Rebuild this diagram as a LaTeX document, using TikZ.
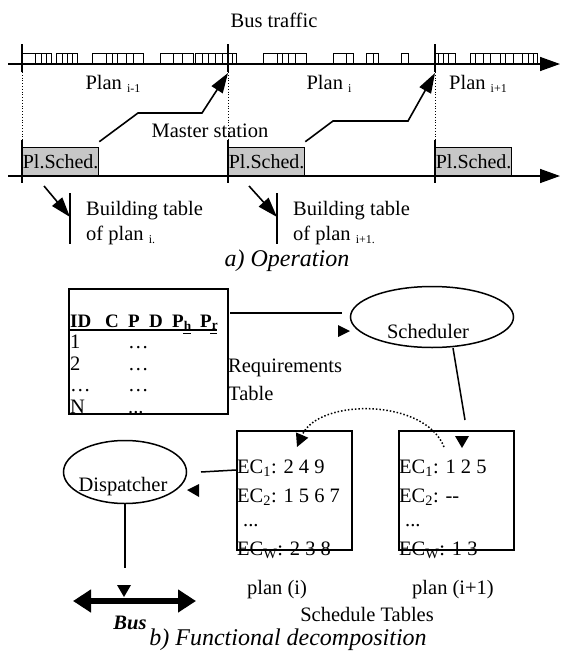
\documentclass[tikz,border=0pt]{standalone}
\usepackage{fontspec}
\setmainfont{Liberation Serif}
\usetikzlibrary{arrows.meta,shapes.geometric}
\newcommand\lowsub[1]{\raisebox{-0.35ex}{\fontsize{12}{12}\selectfont #1}}
\newcommand\pkts[3]{\draw[pkt] (#1,53) -- (#2,53); \foreach \xx in {#1,#3,#2} \draw[pkt] (\xx,53) -- (\xx,64);}
\begin{document}
\begin{tikzpicture}[x=1pt,y=-1pt,font=\fontsize{20.5}{24}\selectfont,
  every node/.style={inner sep=0pt},
  pkt/.style={line width=0.8pt},
  axisline/.style={line width=1.5pt,-{Triangle[length=20pt,width=14pt]}},
  tickline/.style={line width=1.3pt},
  dotv/.style={dotted,line width=0.8pt},
  sched/.style={draw,line width=1.3pt,fill=black!22,minimum width=76pt,minimum height=28pt,anchor=south west,font=\fontsize{20}{24}\selectfont},
  harrow/.style={line width=1.6pt,-{Triangle[length=20pt,width=13pt]}},
  boxrect/.style={draw,line width=1.8pt,anchor=north west},
  conn/.style={line width=1.5pt},
  oval/.style={draw,ellipse,line width=1.5pt},
  captxt/.style={anchor=base,font=\fontsize{24}{28}\selectfont\itshape}]
\useasboundingbox (0,0) rectangle (562,653);
% ---------- a) Operation ----------
\node (bt) at (274,20) {Bus traffic};
\coordinate (ax1s) at (8,64); \coordinate (ax1e) at (560,64);
\draw[axisline] (ax1s) -- (ax1e);
\foreach \t in {22,228,435} {
  \draw[tickline] (\t,44) -- (\t,72);
  \draw[dotv] (\t,72) -- (\t,140);
  \draw[tickline] (\t,140) -- (\t,183);
}
\pkts{22}{51}{35,41,46}
\pkts{56}{77}{62,67,72}
\pkts{92}{126}{106,112,117}
\pkts{126}{143}{133}
\pkts{160}{193}{173,182}
\pkts{195}{228}{202,208,215,222}
\pkts{228}{236}{232}
\pkts{263}{288}{277,282}
\pkts{288}{306}{295}
\pkts{333}{353}{346}
\pkts{366}{378}{373}
\pkts{401}{408}{401}
\pkts{435}{455}{438,443,448}
\pkts{470}{537}{475,483,490,500,505,513,522,528,533}
\node (pl1) at (113,84) {Plan \lowsub{i-1}};
\node (pl2) at (329,84) {Plan \lowsub{i}};
\node (pl3) at (478,84) {Plan \lowsub{i+1}};
\coordinate (ax2s) at (8,176); \coordinate (ax2e) at (560,176);
\draw[axisline] (ax2s) -- (ax2e);
\node[sched] (s1) at (22,176) {Pl.Sched.};
\node[sched] (s2) at (228,176) {Pl.Sched.};
\node[sched] (s3) at (435,176) {Pl.Sched.};
\coordinate (tip2) at (228,73);
\coordinate (tip3) at (435,73);
\draw[harrow] ([yshift=5pt]s1.north east) -- (138,113) -- (202,113) -- (tip2);
\draw[harrow] ([yshift=5pt]s2.north east) -- (333,121) -- (408,121) -- (tip3);
\node (ms) at (210,131) {Master station};
\coordinate (d1a) at (44,186); \coordinate (d1b) at (70,217);
\coordinate (d2a) at (249,186); \coordinate (d2b) at (277,217);
\draw[harrow] (d1a) -- (d1b);
\draw[harrow] (d2a) -- (d2b);
\draw[conn] (70,193) -- (70,244);
\draw[conn] (277,193) -- (277,244);
\node[anchor=west] (b1a) at (86,211) {Building table};
\node[anchor=west] (b1b) at (86,235) {of plan \lowsub{i.}};
\node[anchor=west] (b2a) at (293,211) {Building table};
\node[anchor=west] (b2b) at (293,235) {of plan \lowsub{i+1.}};
\node[captxt] (capa) at (287,266) {a) Operation};
% ---------- b) Functional decomposition ----------
\node[boxrect,minimum width=159pt,minimum height=125pt] (req) at (68,288) {};
\begin{scope}[every node/.style={anchor=base west,inner sep=0pt,font=\fontsize{19}{22}\selectfont\bfseries}]
\node (hID) at (70,327) {ID};
\node (hC) at (105,327) {C};
\node (hP) at (128,327) {P};
\node (hD) at (149,327) {D};
\node (hPh) at (172,327) {P\textsubscript{h}};
\node (hPr) at (200,327) {P\textsubscript{r}};
\end{scope}
\draw[line width=1.5pt] (68,330) -- (217,330);
\draw[line width=1pt] (183,333) -- (191,333);
\draw[line width=1pt] (210,333) -- (217,333);
\begin{scope}[every node/.style={anchor=base west,inner sep=0pt}]
\node (r1a) at (70,348) {1};
\node (r2a) at (70,370) {2};
\node (r3a) at (70,391) {…};
\node (r4a) at (70,413) {N};
\node (r1b) at (128,348) {…};
\node (r2b) at (128,370) {…};
\node (r3b) at (128,391) {…};
\node (r4b) at (128,413) {...};
\end{scope}
\node[anchor=west] (rq1) at (228,368) {Requirements};
\node[anchor=west] (rq2) at (228,393) {Table};
\node[oval,minimum width=163pt,minimum height=61pt] (sch) at (432,317) {};
\node (scht) at (428,331) {Scheduler};
\coordinate (rl1) at (230,313); \coordinate (rl2) at (342,313);
\draw[conn] (rl1) -- (rl2);
\fill (338,325) -- (350,331) -- (338,337) -- cycle;
\coordinate (sl1) at (453,348); \coordinate (sl2) at (465,420);
\draw[conn] (sl1) -- (sl2);
\fill (455,436) -- (469,436) -- (462,448) -- cycle;
\node[boxrect,minimum width=115pt,minimum height=119pt] (t1) at (236,430) {};
\node[boxrect,minimum width=115pt,minimum height=119pt] (t2) at (398,430) {};
\begin{scope}[every node/.style={anchor=base west,inner sep=0pt}]
\node (e11) at (237,473) {EC\textsubscript{1}: 2 4 9};
\node (e12) at (237,502) {EC\textsubscript{2}: 1 5 6 7};
\node (e13) at (243,526) {...};
\node (e14) at (237,555) {EC\textsubscript{W}: 2 3 8};
\node (e21) at (399,473) {EC\textsubscript{1}: 1 2 5};
\node (e22) at (399,502) {EC\textsubscript{2}: -{}-};
\node (e23) at (405,526) {...};
\node (e24) at (399,555) {EC\textsubscript{W}: 1 3};
\end{scope}
\draw[dotted,line width=1.5pt,-{Triangle[length=13pt,width=13pt]}] (444,447) .. controls (425,398) and (318,398) .. (297,447);
\node[oval,minimum width=123pt,minimum height=63pt] (dsp) at (125,472) {};
\node (dspt) at (123,487) {Dispatcher};
\coordinate (dl1) at (236,470); \coordinate (dl2) at (201,472);
\draw[conn] (dl1) -- (dl2);
\fill (199,484) -- (199,497) -- (187,490) -- cycle;
\coordinate (bl1) at (125,504); \coordinate (bl2) at (125,568);
\draw[conn] (bl1) -- (bl2);
\fill (117,585) -- (131,585) -- (124,597) -- cycle;
\coordinate (busL) at (73,601); \coordinate (busR) at (196,601);
\draw[line width=6pt,{Triangle[length=18pt,width=22pt]}-{Triangle[length=18pt,width=22pt]}] (busL) -- (busR);
\node[font=\fontsize{20.5}{24}\selectfont\bfseries\itshape] (bus) at (130,623) {Bus};
\node (pi) at (277,590) {plan (i)};
\node (pi1) at (453,590) {plan (i+1)};
\node (st) at (367,614) {Schedule Tables};
\node[captxt] (capb) at (288,645) {b) Functional decomposition};
\end{tikzpicture}
\end{document}
